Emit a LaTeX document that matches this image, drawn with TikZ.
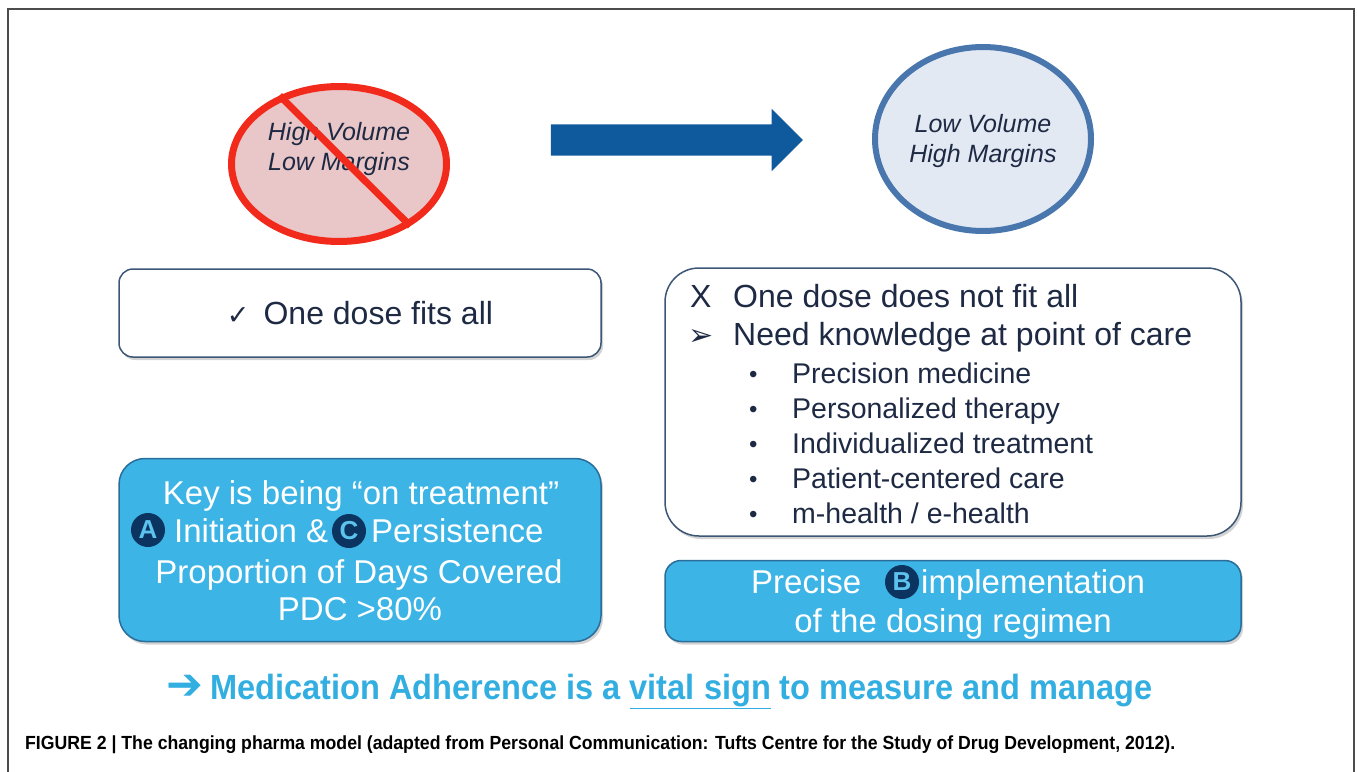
\documentclass[tikz,border=0pt]{standalone}
\usepackage{fontspec}
\setmainfont{Liberation Sans}
\newfontfamily\symfont{DejaVu Sans}
\newfontfamily\narrowfont[FakeStretch=0.93]{Liberation Sans}
\usetikzlibrary{shapes.geometric}
\usetikzlibrary{shapes.arrows}
\usetikzlibrary{shadows}
\definecolor{nogofill}{HTML}{E9C6C7}
\definecolor{nogored}{HTML}{F22A1C}
\definecolor{okfill}{HTML}{E2E9F3}
\definecolor{okline}{HTML}{4A76AE}
\definecolor{shiftblue}{HTML}{0F5A9C}
\definecolor{inkdark}{HTML}{1E2A44}
\definecolor{boxline}{HTML}{3C5676}
\definecolor{cyanfill}{HTML}{3CB4E5}
\definecolor{cyanline}{HTML}{2B6D9A}
\definecolor{badgenavy}{HTML}{0B3560}
\definecolor{badgeletter}{HTML}{5CC3EE}
\definecolor{slogan}{HTML}{33AEE0}
\newcommand{\sz}[2]{\fontsize{#1}{#2}\selectfont}

\tikzset{
  framebox/.style={draw=gray!60!black, line width=2.5pt},
  whitebox/.style={draw=boxline, line width=1.5pt, fill=white,
    drop shadow={opacity=0.35, shadow xshift=2pt, shadow yshift=-3pt}},
  cyanbox/.style={draw=cyanline, line width=1.5pt, fill=cyanfill,
    drop shadow={opacity=0.35, shadow xshift=2pt, shadow yshift=-3pt}},
  badge/.style={circle, fill=badgenavy, minimum size=34pt, inner sep=0pt,
    text=badgeletter, font=\sz{26}{26}\bfseries},
  darktext/.style={text=inkdark, inner sep=0pt, anchor=base west},
  lighttext/.style={text=white, inner sep=0pt, font=\sz{33}{38}},
}

\begin{document}
\begin{tikzpicture}[x=1pt,y=-1pt]
  \useasboundingbox (0,0) rectangle (1357,771);
  \draw[framebox] (8,9) rectangle (1354,800);

  \node[ellipse, draw=nogored, line width=7pt, fill=nogofill,
    minimum width=215pt, minimum height=155pt] (nogo) at (339,164) {};
  \node[text=inkdark, align=center, font=\sz{25}{30}\itshape] (hvlm) at (339,149) {High Volume\\Low Margins};
  \draw[nogored, line width=7pt] (nogo.131) -- (nogo.-41);

  \node[single arrow, fill=shiftblue, inner xsep=0pt, inner ysep=15.5pt, minimum height=252pt,
    single arrow head extend=15.5pt] (shift) at (669,140) {};

  \node[ellipse, draw=okline, line width=6pt, fill=okfill,
    minimum width=216pt, minimum height=184pt] (okgo) at (983,139) {};
  \node[text=inkdark, align=center, font=\sz{25}{30}\itshape] (lvhm) at (983,141) {Low Volume\\High Margins};

  \node[whitebox, rounded corners=14pt, minimum width=482pt, minimum height=88pt,
    text=inkdark, font=\sz{32}{38}] (fitsall) at (360,313)
    {{\symfont\sz{27}{27}✓}\hspace{14pt}One dose fits all};

  \node[whitebox, rounded corners=34pt, minimum width=576pt, minimum height=268pt] (care) at (953,402) {};
  \node[darktext, font=\sz{32}{32}] (nofit) at (690,307) {X};
  \node[darktext, font=\sz{32}{32}] (nofittext) at (733,307) {One dose does not fit all};
  \node[darktext, font=\symfont\sz{30}{30}] (need) at (688,345) {➢};
  \node[darktext, font=\sz{32}{32}] (needtext) at (733,345) {Need knowledge at point of care};
  \node[darktext, font=\sz{24}{24}] (dota) at (749,382) {•};
  \node[darktext, font=\sz{28.5}{28.5}] (precision) at (792,383) {Precision medicine};
  \node[darktext, font=\sz{24}{24}] (dotb) at (749,417) {•};
  \node[darktext, font=\sz{28.5}{28.5}] (personal) at (792,418) {Personalized therapy};
  \node[darktext, font=\sz{24}{24}] (dotc) at (749,452) {•};
  \node[darktext, font=\sz{28.5}{28.5}] (individual) at (792,453) {Individualized treatment};
  \node[darktext, font=\sz{24}{24}] (dotd) at (749,487) {•};
  \node[darktext, font=\sz{28.5}{28.5}] (patient) at (792,488) {Patient-centered care};
  \node[darktext, font=\sz{24}{24}] (dote) at (749,522) {•};
  \node[darktext, font=\sz{28.5}{28.5}] (mhealth) at (792,523) {m-health / e-health};

  \node[cyanbox, rounded corners=26pt, minimum width=482pt, minimum height=183pt] (ontreat) at (360,550) {};
  \node[lighttext, anchor=base] (keyline) at (361,504) {Key is being “on treatment”};
  \node[badge] (badgea) at (148,530) {A};
  \node[lighttext, anchor=base west] (initiation) at (174,542) {Initiation \&};
  \node[badge] (badgec) at (349,531) {C};
  \node[lighttext, anchor=base west] (persist) at (371,542) {Persistence};
  \node[lighttext, anchor=base] (pdcline) at (359,583) {Proportion of Days Covered};
  \node[lighttext, anchor=base] (pdc) at (360,620) {PDC >80\%};

  \node[cyanbox, rounded corners=16pt, minimum width=576pt, minimum height=81pt] (precise) at (953,601) {};
  \node[lighttext, anchor=base west] (precisetext) at (751,593) {Precise};
  \node[badge] (badgeb) at (902,582) {B};
  \node[lighttext, anchor=base west] (implement) at (921,593) {implementation};
  \node[lighttext, anchor=base] (regimen) at (953,632) {of the dosing regimen};

  \node[text=slogan, inner sep=0pt, font=\symfont\sz{44}{44}\bfseries] (sloganarrow) at (185,687) {➔};
  \node[text=slogan, inner sep=0pt, anchor=base west, font=\narrowfont\sz{35}{35}\bfseries] (slogantext) at (210,699)
    {Medication Adherence is a \underline{vital sign} to measure and manage};

  \node[inner sep=0pt, anchor=base west, font=\narrowfont\sz{19}{19}\bfseries] (caption) at (25,749)
    {FIGURE 2 | The changing pharma model (adapted from Personal Communication: Tufts Centre for the Study of Drug Development, 2012).};
\end{tikzpicture}
\end{document}
